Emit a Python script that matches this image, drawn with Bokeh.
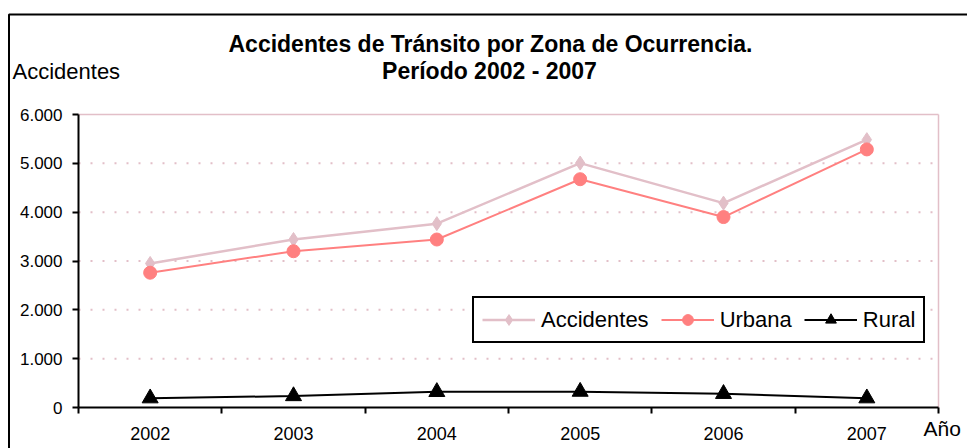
from bokeh.plotting import figure
from bokeh.models import Range1d, FixedTicker, Legend, LegendItem, Label, BoxAnnotation
from bokeh.embed import file_html
from bokeh.resources import INLINE

# ---- data ----
years = ["2002", "2003", "2004", "2005", "2006", "2007"]
accidentes = [2950, 3440, 3765, 5005, 4185, 5485]
urbana = [2760, 3200, 3440, 4675, 3900, 5285]
rural = [190, 235, 320, 325, 280, 190]
y_ticks = [0, 1000, 2000, 3000, 4000, 5000, 6000]
y_tick_labels = ["0", "1.000", "2.000", "3.000", "4.000", "5.000", "6.000"]

title_1 = "Accidentes de Tránsito por Zona de Ocurrencia."
title_2 = "Período 2002 - 2007"
y_title = "Accidentes"
x_title = "Año"

# ---- layout (pixels on the canvas) ----
W, H = 967, 448
PX_LEFT, PX_RIGHT, PX_TOP, PX_BOTTOM = 78, 938, 114, 407

PINK = "#E2BFC8"
SALMON = "#FF8080"
FONT = "Liberation Sans"

n = len(years)
ymax = y_ticks[-1]
sx = (PX_RIGHT - PX_LEFT) / n
sy = (PX_BOTTOM - PX_TOP) / ymax


def dx(px):
    return (px - PX_LEFT) / sx


def dy(py):
    return (PX_BOTTOM - py) / sy


xpos = [i + 0.5 for i in range(n)]

p = figure(width=W, height=H, output_backend="svg", toolbar_location=None,
           x_range=Range1d(dx(0), dx(W)), y_range=Range1d(dy(H), dy(0)),
           min_border=0, min_border_left=0, min_border_right=0,
           min_border_top=0, min_border_bottom=0)
p.background_fill_color = "white"
p.border_fill_color = "white"
p.outline_line_color = None
p.xgrid.visible = False
p.ygrid.visible = False

# x axis (crossing at y = 0)
xa = p.xaxis[0]
xa.fixed_location = 0
xa.bounds = (0, n)
xa.ticker = FixedTicker(ticks=xpos, minor_ticks=list(range(n + 1)))
xa.major_label_overrides = {xv: yr for xv, yr in zip(xpos, years)}
xa.major_tick_out = 0
xa.major_tick_in = 0
xa.minor_tick_out = 6
xa.minor_tick_in = 0
xa.minor_tick_line_color = "black"
xa.minor_tick_line_width = 2
xa.axis_line_color = "black"
xa.axis_line_width = 2
xa.major_label_standoff = 13
xa.major_label_text_font = FONT
xa.major_label_text_font_size = "18px"
xa.major_label_text_color = "black"

# y axis (crossing at x = 0)
ya = p.yaxis[0]
ya.fixed_location = 0
ya.bounds = (0, ymax)
ya.ticker = FixedTicker(ticks=y_ticks)
ya.major_label_overrides = {t: l for t, l in zip(y_ticks, y_tick_labels)}
ya.major_tick_out = 6
ya.major_tick_in = 0
ya.major_tick_line_width = 2
ya.minor_tick_line_color = None
ya.axis_line_color = "black"
ya.axis_line_width = 2
ya.major_label_standoff = 10
ya.major_label_text_font = FONT
ya.major_label_text_font_size = "17px"
ya.major_label_text_color = "black"

# dotted horizontal gridlines and the pink plot-area border
inner = y_ticks[1:-1]
p.segment(x0=[0] * len(inner), x1=[n] * len(inner), y0=inner, y1=inner,
          line_color=PINK, line_width=2, line_dash="2 10")
p.segment(x0=[0, n], y0=[ymax, 0], x1=[n, n], y1=[ymax, ymax],
          line_color=PINK, line_width=1.5)

# series
la = p.line(xpos, accidentes, line_color=PINK, line_width=2.5)
sa = p.scatter(xpos, accidentes, marker="diamond", size=14,
               fill_color=PINK, line_color=PINK)
lu = p.line(xpos, urbana, line_color=SALMON, line_width=2)
su = p.scatter(xpos, urbana, marker="circle", size=13,
               fill_color=SALMON, line_color=SALMON)
lr = p.line(xpos, rural, line_color="black", line_width=2)
sr = p.scatter(xpos, rural, marker="triangle", size=16,
               fill_color="black", line_color="black")

legend = Legend(items=[LegendItem(label="Accidentes", renderers=[la, sa]),
                       LegendItem(label="Urbana", renderers=[lu, su]),
                       LegendItem(label="Rural", renderers=[lr, sr])],
                orientation="horizontal", location=(472, 105),
                glyph_width=53, glyph_height=27, label_height=27,
                label_standoff=6, spacing=12, padding=8, margin=0,
                label_text_font=FONT, label_text_font_size="22px",
                label_text_color="black",
                border_line_color="black", border_line_width=2,
                border_line_alpha=1.0,
                background_fill_color="white", background_fill_alpha=1)
p.add_layout(legend)

# texts (baseline positions, canvas pixels)
p.add_layout(Label(x=dx(490), y=dy(43), text=title_1,
                   text_align="center", text_baseline="alphabetic", text_font=FONT,
                   text_font_size="23px", text_font_style="bold", text_color="black"))
p.add_layout(Label(x=dx(489), y=dy(70), text=title_2,
                   text_align="center", text_baseline="alphabetic", text_font=FONT,
                   text_font_size="23px", text_font_style="bold", text_color="black"))
p.add_layout(Label(x=dx(12), y=dy(71), text=y_title,
                   text_align="left", text_baseline="alphabetic", text_font=FONT,
                   text_font_size="22px", text_color="black"))
p.add_layout(Label(x=dx(923), y=dy(428), text=x_title,
                   text_align="left", text_baseline="alphabetic", text_font=FONT,
                   text_font_size="21px", text_color="black"))

# outer chart border (top and left edges visible)
p.add_layout(BoxAnnotation(left=dx(8.5), right=dx(W + 200), top=dy(14), bottom=dy(H + 200),
                           fill_color=None, fill_alpha=0,
                           line_color="black", line_alpha=1.0, line_width=2,
                           level="overlay"))

open("out.html", "w").write(file_html(p, INLINE))
